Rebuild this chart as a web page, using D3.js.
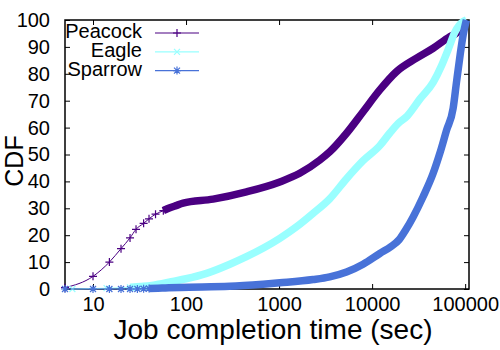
<!DOCTYPE html>
<html>
<head>
<meta charset="utf-8">
<script src="https://cdn.jsdelivr.net/npm/d3@7"></script>
<style>
  body { margin: 0; background: #fff; }
  svg { display: block; font-family: "Liberation Sans", Arial, sans-serif; }
</style>
</head>
<body>
<script>
const width = 500;
const height = 350;
const margin = { top: 20, right: 31, bottom: 61, left: 65 };

const chartWidth = width - margin.left - margin.right;
const chartHeight = height - margin.top - margin.bottom;

// data (time in sec, CDF in %)
const seriesNames = ["Peacock", "Eagle", "Sparrow"];

const peacockTime = [5, 10, 15, 20, 25, 29, 35, 40, 47, 57, 66, 78, 93, 195, 446, 1018, 1667, 2735, 3505, 5310, 8000, 12100, 18300, 30000, 45300, 68400, 80800, 102000];
const peacockCdf = [0.5, 4.7, 10, 15, 19, 22.2, 24.4, 26.1, 27.8, 29.1, 30.1, 31, 31.9, 33.4, 36.1, 39.8, 43, 47.9, 51, 57.9, 65.9, 74, 80.8, 85.8, 89.5, 93.8, 95.2, 100];

const eagleTime = [6, 14, 25, 32, 41, 55, 72, 100, 166, 300, 446, 1018, 1540, 2320, 3500, 5310, 8000, 12100, 15500, 19000, 23800, 32600, 45300, 55700, 65600, 77400, 95100, 103000];
const eagleCdf = [0, 0.3, 0.6, 0.9, 1.2, 2, 2.8, 3.8, 5.8, 9.3, 12, 18.8, 23.1, 28.1, 33.5, 41, 47.7, 53.3, 58, 61.5, 64.3, 70.6, 76.8, 83, 89, 95.4, 99.4, 100];

const sparrowTime = [5, 10, 15, 20, 25, 30, 35, 40, 50, 60, 86, 295, 673, 1018, 2320, 3505, 5310, 8000, 12100, 16000, 19500, 23000, 27600, 35300, 45300, 53400, 63100, 74300, 80800, 88300, 95100, 103000];
const sparrowCdf = [0, 0, 0, 0, 0, 0, 0.1, 0.2, 0.3, 0.4, 0.6, 1, 1.8, 2.3, 3.5, 4.5, 6.3, 9.2, 13.2, 15.8, 18.3, 22, 26.8, 34.3, 43, 50.4, 59, 67.2, 77, 87, 94.4, 100];

const xTicks = [10, 100, 1000, 10000, 100000];
const yTicks = [0, 10, 20, 30, 40, 50, 60, 70, 80, 90, 100];

const series = [
  { name: seriesNames[0], time: peacockTime, cdf: peacockCdf, color: "#4b0082", dense: 57, marker: "M-4,0H4M0,-4V4" },
  { name: seriesNames[1], time: eagleTime, cdf: eagleCdf, color: "#99ffff", dense: 25, marker: "M-3,-3L3,3M-3,3L3,-3" },
  { name: seriesNames[2], time: sparrowTime, cdf: sparrowCdf, color: "#4872d8", dense: 40, marker: "M-4,0H4M0,-4V4M-3,-3L3,3M-3,3L3,-3" }
];

const svg = d3.select("body")
  .append("svg")
  .attr("width", width)
  .attr("height", height);

const g = svg.append("g")
  .attr("transform", `translate(${margin.left}, ${margin.top})`);

const x = d3.scaleLog()
  .domain([5, 110000])
  .range([0, chartWidth]);

const y = d3.scaleLinear()
  .domain([0, 100])
  .range([chartHeight, 0]);

// axes, ticks pointing inward like gnuplot
g.append("g")
  .attr("transform", `translate(0, ${chartHeight})`)
  .call(d3.axisBottom(x).tickValues(xTicks).tickFormat(d3.format("d")).tickSizeInner(-5).tickSizeOuter(0).tickPadding(8))
  .call(a => a.select(".domain").remove());

g.append("g")
  .call(d3.axisTop(x).tickValues(xTicks).tickFormat("").tickSizeInner(-5).tickSizeOuter(0))
  .call(a => a.select(".domain").remove());

g.append("g")
  .call(d3.axisLeft(y).tickValues(yTicks).tickSizeInner(-5).tickSizeOuter(0).tickPadding(15))
  .call(a => a.select(".domain").remove());

g.append("g")
  .attr("transform", `translate(${chartWidth}, 0)`)
  .call(d3.axisRight(y).tickValues(yTicks).tickFormat("").tickSizeInner(-5).tickSizeOuter(0))
  .call(a => a.select(".domain").remove());

g.selectAll(".tick text")
  .attr("fill", "#000")
  .attr("font-size", 20)
  .attr("font-family", "Liberation Sans, Arial, sans-serif");
g.selectAll(".tick line").attr("stroke", "#000");

g.append("rect")
  .attr("width", chartWidth)
  .attr("height", chartHeight)
  .attr("fill", "none")
  .attr("stroke", "#000")
  .attr("stroke-width", 1.5);

// axis titles
svg.append("text")
  .attr("x", 273)
  .attr("y", 339)
  .attr("text-anchor", "middle")
  .attr("font-size", 28)
  .text("Job completion time (sec)");

svg.append("text")
  .attr("transform", "translate(23, 161) rotate(-90)")
  .attr("text-anchor", "middle")
  .attr("font-size", 25)
  .text("CDF");

// curves
const line = d3.line()
  .x(d => x(d[0]))
  .y(d => y(d[1]))
  .curve(d3.curveMonotoneX);

series.forEach(s => {
  const pts = s.time.map((t, i) => [t, s.cdf[i]]);
  const dense = pts.filter(p => p[0] >= s.dense);
  const sparse = pts.filter(p => p[0] <= s.dense);

  g.append("path")
    .attr("d", line(pts))
    .attr("fill", "none")
    .attr("stroke", s.color)
    .attr("stroke-width", 1);

  g.append("path")
    .attr("d", line(dense))
    .attr("fill", "none")
    .attr("stroke", s.color)
    .attr("stroke-width", 7.5);

  g.selectAll(null)
    .data(sparse)
    .enter()
    .append("path")
      .attr("transform", d => `translate(${x(d[0])}, ${y(d[1])})`)
      .attr("d", s.marker)
      .attr("fill", "none")
      .attr("stroke", s.color)
      .attr("stroke-width", 1.2);
});

// legend
const legend = svg.append("g");
series.forEach((s, i) => {
  const ly = 33 + i * 18.8;
  legend.append("text")
    .attr("x", 142)
    .attr("y", ly + 5)
    .attr("text-anchor", "end")
    .attr("font-size", 20)
    .text(s.name);
  legend.append("line")
    .attr("x1", 155)
    .attr("x2", 199)
    .attr("y1", ly)
    .attr("y2", ly)
    .attr("stroke", s.color)
    .attr("stroke-width", 1.2);
  legend.append("path")
    .attr("transform", `translate(177, ${ly})`)
    .attr("d", s.marker)
    .attr("fill", "none")
    .attr("stroke", s.color)
    .attr("stroke-width", 1.2);
});
</script>
</body>
</html>
